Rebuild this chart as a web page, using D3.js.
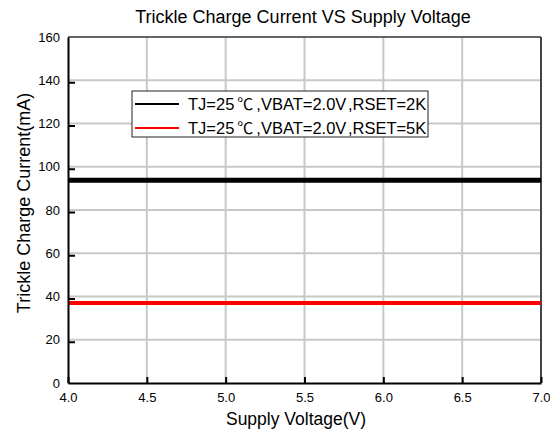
<!DOCTYPE html>
<html><head><meta charset="utf-8">
<script src="https://cdn.jsdelivr.net/npm/d3@7"></script>
<style>body{margin:0;background:#fff;} text{font-family:"Liberation Sans",Arial,sans-serif;}</style>
</head><body><svg id="c" width="550" height="430"></svg>
<script>
const voltage = [4.0, 4.5, 5.0, 5.5, 6.0, 6.5, 7.0];
const current2K = [93.8, 93.8, 93.8, 93.8, 93.8, 93.8, 93.8];
const current5K = [37.0, 37.0, 37.0, 37.0, 37.0, 37.0, 37.0];
const seriesPrefix = ["TJ=25", "TJ=25"];
const seriesSuffix = [",VBAT=2.0V,RSET=2K", ",VBAT=2.0V,RSET=5K"];
const seriesColors = ["#000000", "#ff0000"];
const xTicks = [4.0, 4.5, 5.0, 5.5, 6.0, 6.5, 7.0];
const yTicks = [0, 20, 40, 60, 80, 100, 120, 140, 160];

const svg = d3.select("#c");
const m = {l:68, r:541, t:37, b:383};
const x = d3.scaleLinear().domain([4,7]).range([m.l, m.r]);
const y = d3.scaleLinear().domain([0,160]).range([m.b, m.t]);

// grid
svg.append("g").selectAll("line").data(xTicks.slice(1,-1)).join("line")
  .attr("x1", d=>x(d)).attr("x2", d=>x(d)).attr("y1", m.t).attr("y2", m.b)
  .attr("stroke", "#c8c8c8").attr("stroke-width", 2);
svg.append("g").selectAll("line").data(yTicks.slice(1,-1)).join("line")
  .attr("y1", d=>y(d)).attr("y2", d=>y(d)).attr("x1", m.l).attr("x2", m.r)
  .attr("stroke", "#c8c8c8").attr("stroke-width", 2);

// frame
svg.append("line").attr("x1", m.l).attr("x2", m.r).attr("y1", m.t).attr("y2", m.t).attr("stroke", "#333").attr("stroke-width", 1.5);
svg.append("line").attr("x1", m.r).attr("x2", m.r).attr("y1", m.t).attr("y2", m.b).attr("stroke", "#444").attr("stroke-width", 2);

// series
const line = d3.line().x((d,i)=>x(voltage[i])).y(d=>y(d));
svg.append("path").datum(current2K).attr("d", line).attr("fill","none").attr("stroke", seriesColors[0]).attr("stroke-width", 5);
svg.append("path").datum(current5K).attr("d", line).attr("fill","none").attr("stroke", seriesColors[1]).attr("stroke-width", 4);

// axes
const xAxis = d3.axisBottom(x).tickValues(xTicks).tickFormat(d3.format(".1f")).tickSizeInner(-6).tickSizeOuter(0).tickPadding(10);
const gx = svg.append("g").attr("transform", `translate(0,${m.b})`).call(xAxis);
gx.select(".domain").attr("stroke", "#000").attr("stroke-width", 2);
gx.selectAll(".tick line").attr("stroke", "#000").attr("stroke-width", 2);
gx.selectAll("text").attr("font-size", 13).attr("fill", "#000");

const yAxis = d3.axisLeft(y).tickValues(yTicks).tickSizeInner(-7).tickSizeOuter(0).tickPadding(8);
const gy = svg.append("g").attr("transform", `translate(${m.l},0)`).call(yAxis);
gy.select(".domain").attr("stroke", "#000").attr("stroke-width", 2);
gy.selectAll(".tick line").attr("stroke", "#000").attr("stroke-width", 2).attr("transform","translate(0,2)");
gy.selectAll(".tick").filter(d=>d===0||d===160).select("line").remove();
gy.selectAll("text").attr("font-size", 13).attr("fill", "#000");

// titles
svg.append("text").attr("x", 303).attr("y", 23).attr("text-anchor","middle").attr("font-size", 18).text("Trickle Charge Current VS Supply Voltage");
svg.append("text").attr("x", 296).attr("y", 425).attr("text-anchor","middle").attr("font-size", 17.5).text("Supply Voltage(V)");
svg.append("text").attr("transform", "translate(30,203) rotate(-90)").attr("text-anchor","middle").attr("font-size", 18).text("Trickle Charge Current(mA)");

// legend
const lg = svg.append("g");
lg.append("rect").attr("x", 132).attr("y", 91).attr("width", 296).attr("height", 46).attr("fill", "#fff").attr("stroke", "#222").attr("stroke-width", 1);
seriesPrefix.forEach((p,i)=>{
  const yy = 104 + i*24;
  lg.append("line").attr("x1", 135).attr("x2", 179).attr("y1", yy).attr("y2", yy).attr("stroke", seriesColors[i]).attr("stroke-width", 2);
  const t = lg.append("text").attr("x", 188).attr("y", yy+6).attr("font-size", 16.5);
  t.append("tspan").text(p);
  t.append("tspan").attr("dx", 3).attr("font-family", "Noto Sans CJK SC").attr("font-size", 16).text("\u2103");
  t.append("tspan").attr("dx", 3).text(seriesSuffix[i].slice(0, 10));
  t.append("tspan").attr("dx", 3).text(seriesSuffix[i].slice(10));
});
</script></body></html>
